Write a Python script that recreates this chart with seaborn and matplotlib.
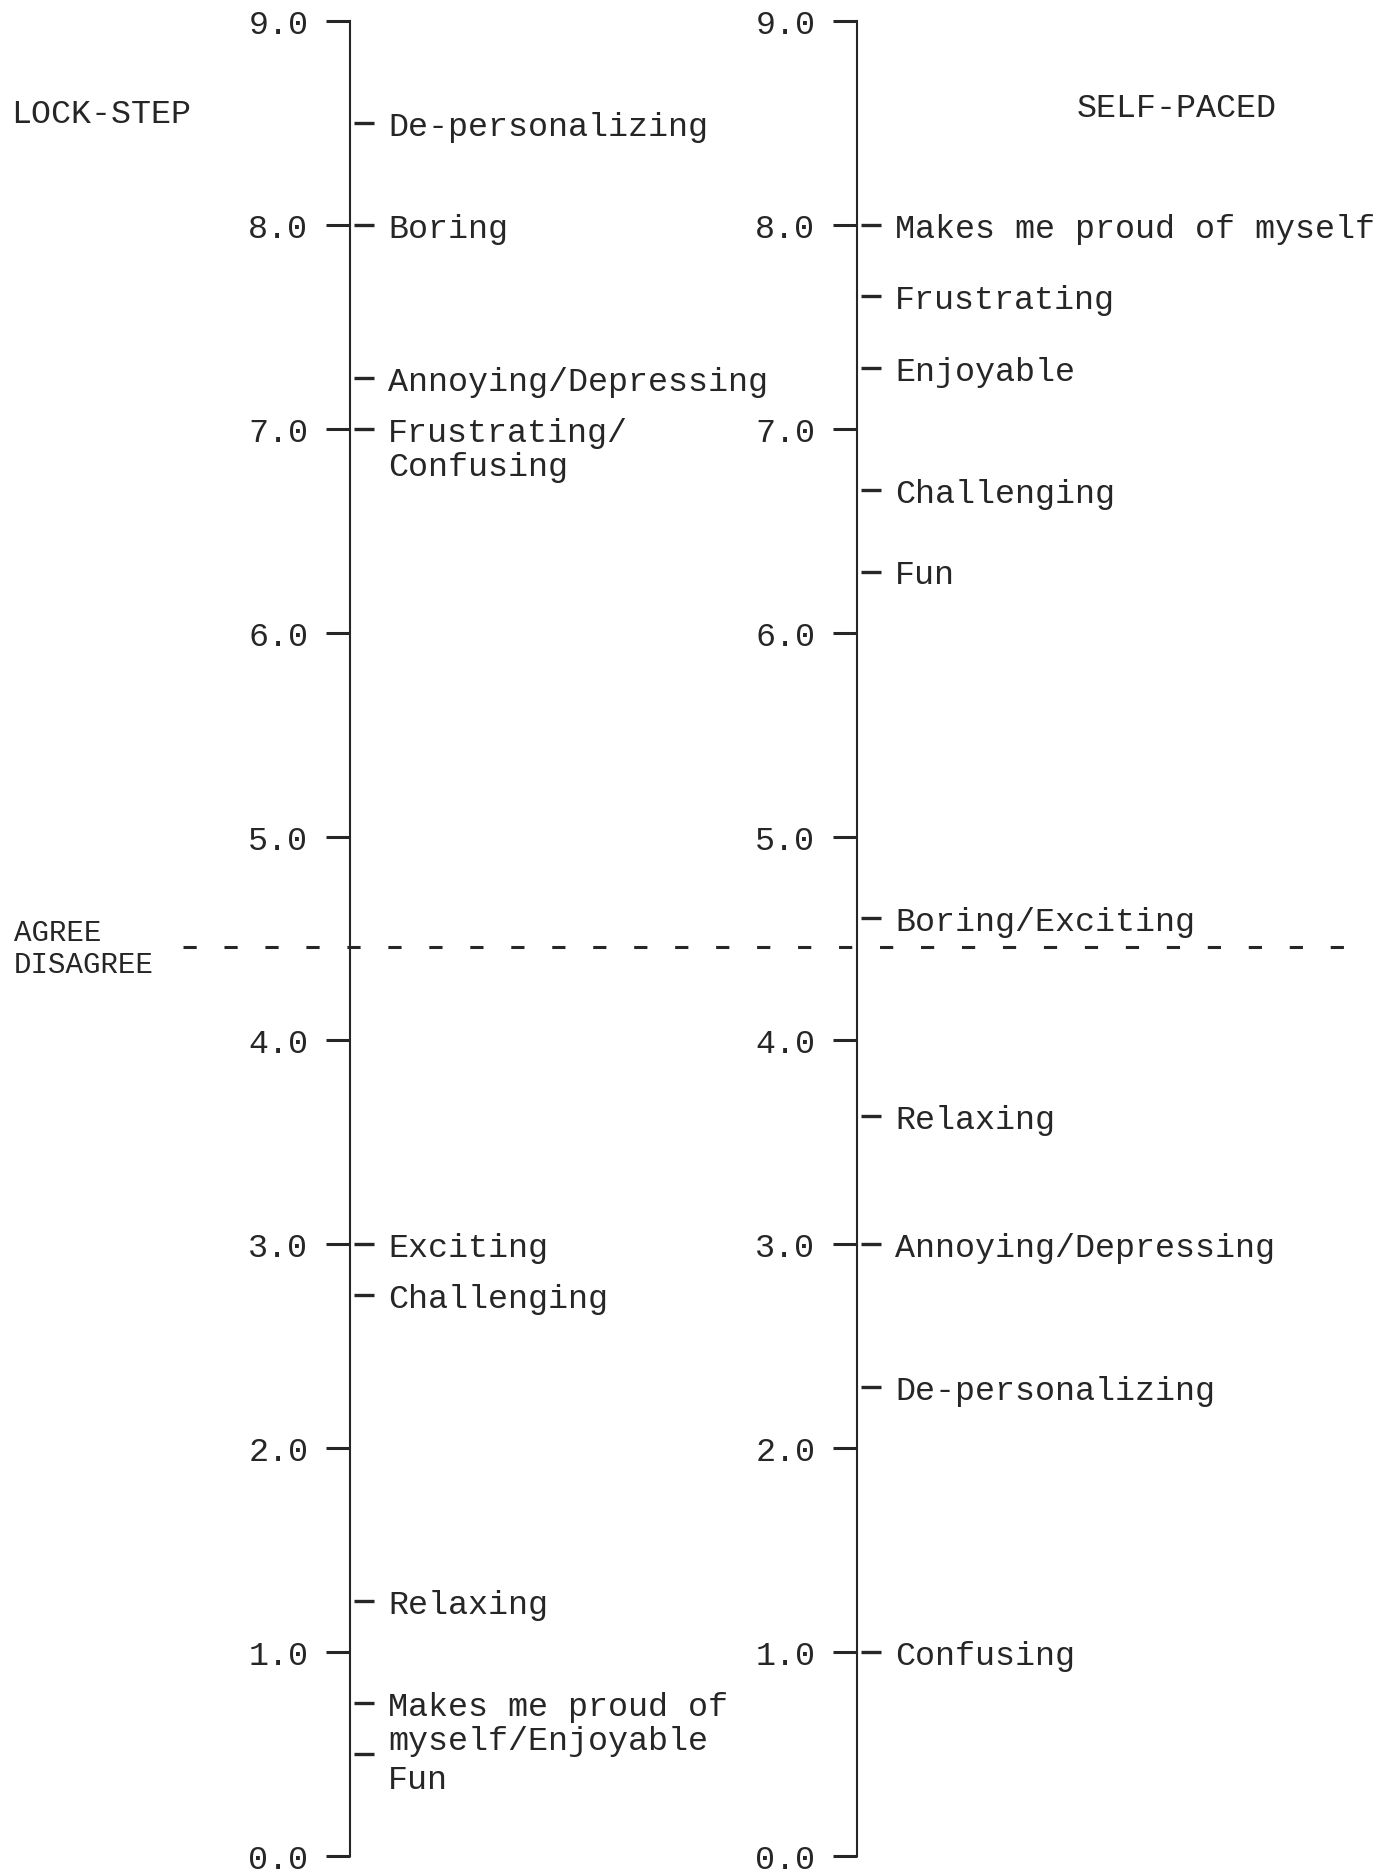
import matplotlib
matplotlib.use("Agg")
import matplotlib.pyplot as plt
import matplotlib.transforms as mtransforms
import seaborn as sns
import pandas as pd

# ---------------- data ----------------
lock_labels = ["De-personalizing", "Boring", "Annoying/Depressing",
               "Frustrating/\nConfusing", "Exciting", "Challenging",
               "Relaxing", "Makes me proud of\nmyself/Enjoyable", "Fun"]
lock_values = [8.5, 8.0, 7.25, 7.0, 3.0, 2.75, 1.25, 0.75, 0.5]

self_labels = ["Makes me proud of myself", "Frustrating", "Enjoyable",
               "Challenging", "Fun", "Boring/Exciting", "Relaxing",
               "Annoying/Depressing", "De-personalizing", "Confusing"]
self_values = [8.0, 7.65, 7.3, 6.7, 6.3, 4.6, 3.63, 3.0, 2.3, 1.0]

tick_values = [0.0, 1.0, 2.0, 3.0, 4.0, 5.0, 6.0, 7.0, 8.0, 9.0]
tick_labels = ["0.0", "1.0", "2.0", "3.0", "4.0", "5.0", "6.0", "7.0", "8.0", "9.0"]
agree_cut = 4.46

# ---------------- style ----------------
sns.set_theme(style="white")
FONT = ["Liberation Mono", "DejaVu Sans Mono"]
plt.rcParams["font.family"] = FONT
plt.rcParams["lines.scale_dashes"] = False
INK = "#262626"
FS = 24

W, H = 1399, 1874
fig = plt.figure(figsize=(W / 100, H / 100), dpi=100)
fig.patch.set_facecolor("white")

y0_px, y9_px = 1857, 22
bottom = (H - y0_px) / H
height = (y0_px - y9_px) / H

# nudges for text placement (points)
text_nudge = {("lock", "Fun"): -16}


def make_axis(x_px, width_px):
    ax = fig.add_axes([x_px / W, bottom, width_px / W, height])
    ax.set_xlim(0, width_px)
    ax.set_ylim(0, 9)
    ax.patch.set_alpha(0)
    for s in ["top", "right", "bottom"]:
        ax.spines[s].set_visible(False)
    ax.spines["left"].set_color(INK)
    ax.spines["left"].set_linewidth(1.5)
    ax.set_xticks([])
    ax.set_yticks(tick_values)
    ax.set_yticklabels(tick_labels, fontsize=FS, color=INK, family=FONT)
    ax.tick_params(axis="y", direction="out", length=17, width=2.2,
                   color=INK, pad=13, left=True)
    ax.grid(False)
    return ax


def draw_side(ax, key, labels, values):
    df = pd.DataFrame({"x": [14.0] * len(values), "y": values})
    sns.scatterplot(data=df, x="x", y="y", marker="_", s=210,
                    linewidth=2.4, color=INK, ax=ax, legend=False,
                    clip_on=False)
    for lab, v in zip(labels, values):
        dy = text_nudge.get((key, lab), 0)
        for i, line in enumerate(lab.split("\n")):
            tr = mtransforms.offset_copy(ax.transData, fig=fig,
                                         y=dy - i * 24.5, units="points")
            ax.text(38, v, line, transform=tr, ha="left",
                    va="center_baseline", fontsize=FS, color=INK,
                    family=FONT, clip_on=False)
    ax.set_xlabel("")
    ax.set_ylabel("")


axL = make_axis(350, 500)
axR = make_axis(857, 540)
draw_side(axL, "lock", lock_labels, lock_values)
draw_side(axR, "self", self_labels, self_values)

# agree / disagree dashed divider
axL.axhline(agree_cut, xmin=-167 / 500, xmax=994 / 500, clip_on=False,
            color=INK, linewidth=2.2, dashes=(9.5, 20))

fig.text(14 / W, 1 - 930 / H, "AGREE", fontsize=FS - 3, color=INK,
         family=FONT, ha="left", va="center_baseline")
fig.text(14 / W, 1 - 962 / H, "DISAGREE", fontsize=FS - 3, color=INK,
         family=FONT, ha="left", va="center_baseline")

fig.text(11 / W, 1 - 111 / H, "LOCK-STEP", fontsize=FS, color=INK,
         family=FONT, ha="left", va="center_baseline")
fig.text(1077 / W, 1 - 105 / H, "SELF-PACED", fontsize=FS, color=INK,
         family=FONT, ha="left", va="center_baseline")

fig.savefig("out.png", dpi=100, facecolor="white")
